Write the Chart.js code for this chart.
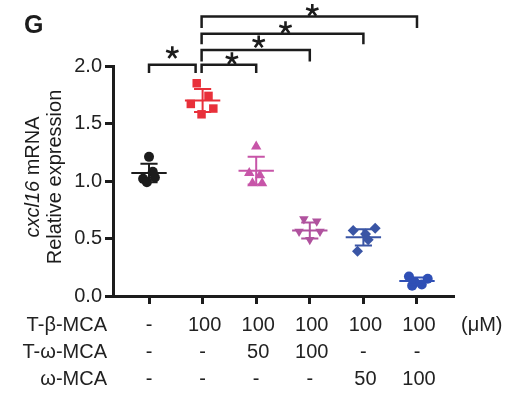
<!DOCTYPE html>
<html>
<head>
<meta charset="utf-8">
<script src="https://cdn.jsdelivr.net/npm/chart.js@4.4.0/dist/chart.umd.min.js"></script>
<style>
  html, body { margin: 0; padding: 0; background: #fff; }
  #wrap { width: 506px; height: 395px; position: relative; }
</style>
</head>
<body>
<div id="wrap"><canvas id="chart"></canvas></div>
<script>
// groups (x positions 0..5) and their points
const groupColors = ['#1c1c1c', '#e8303a', '#c755a8', '#b0529e', '#3a55a5', '#2f4fb5'];
const groupStyles = ['circle', 'rect', 'triangle', 'triangle', 'rectRot', 'circle'];
const groupRotation = [0, 0, 0, 180, 0, 0];
const groupRadius = [5, 6, 6, 5.5, 5.5, 5];

const g0x = [0.00, -0.11, 0.07, -0.04, 0.11];
const g0y = [1.21, 1.02, 1.08, 0.99, 1.03];
const g1x = [0.89, 1.11, 0.78, 1.20, 0.98];
const g1y = [1.85, 1.74, 1.67, 1.63, 1.58];
const g2x = [2.00, 1.87, 2.07, 1.93, 2.11];
const g2y = [1.30, 1.07, 1.05, 0.98, 0.98];
const g3x = [2.89, 3.13, 2.80, 3.19, 3.00];
const g3y = [0.67, 0.65, 0.56, 0.56, 0.49];
const g4x = [3.81, 4.04, 4.22, 4.09, 3.89];
const g4y = [0.57, 0.54, 0.59, 0.49, 0.39];
const g5x = [4.85, 5.20, 4.96, 5.09, 4.91];
const g5y = [0.17, 0.15, 0.12, 0.10, 0.09];

const means = [1.07, 1.70, 1.09, 0.57, 0.51, 0.13];
const sds   = [0.08, 0.10, 0.12, 0.07, 0.07, 0.03];

// significance brackets: [from, to] group index
const brFrom = [0, 1, 1, 1, 1];
const brTo   = [1, 2, 3, 4, 5];

// y ticks
const yTicks = [0, 0.5, 1.0, 1.5, 2.0];

// treatment table under the axis
const rowNames = ['T-\u03b2-MCA', 'T-\u03c9-MCA', '\u03c9-MCA'];
const tbMCA = ['-', '100', '100', '100', '100', '100'];
const twMCA = ['-', '-', '50', '100', '-', '-'];
const wMCA  = ['-', '-', '-', '-', '50', '100'];
const unitLabel = '(\u03bcM)';

const FONT = '"Liberation Sans", Arial, sans-serif';

const xs = [g0x, g1x, g2x, g3x, g4x, g5x];
const ys = [g0y, g1y, g2y, g3y, g4y, g5y];
const datasets = xs.map((arr, i) => ({
  data: arr.map((x, j) => ({ x: x, y: ys[i][j] })),
  pointStyle: groupStyles[i],
  rotation: groupRotation[i],
  pointRadius: groupRadius[i],
  backgroundColor: groupColors[i],
  borderColor: groupColors[i],
  borderWidth: 0,
  showLine: false
}));

// draws a five-armed asterisk centred at (x, y)
function star(ctx, x, y, r) {
  ctx.save();
  ctx.lineWidth = 2.6;
  ctx.lineCap = 'butt';
  ctx.beginPath();
  for (let k = 0; k < 5; k++) {
    const a = -Math.PI / 2 + k * 2 * Math.PI / 5;
    ctx.moveTo(x, y);
    ctx.lineTo(x + r * Math.cos(a), y + r * Math.sin(a));
  }
  ctx.stroke();
  ctx.restore();
}

const extras = {
  id: 'extras',
  afterDatasetsDraw(chart) {
    const ctx = chart.ctx;
    const xS = chart.scales.x, yS = chart.scales.y;
    ctx.save();
    // mean and SD bars
    means.forEach((m, i) => {
      const cx = xS.getPixelForValue(i);
      const w = xS.getPixelForValue(i + 0.33) - cx;
      const c = xS.getPixelForValue(i + 0.16) - cx;
      const yt = yS.getPixelForValue(m + sds[i]);
      const yb = yS.getPixelForValue(m - sds[i]);
      const ym = yS.getPixelForValue(m);
      ctx.strokeStyle = groupColors[i];
      ctx.lineWidth = 2;
      ctx.beginPath();
      ctx.moveTo(cx - w, ym); ctx.lineTo(cx + w, ym);
      ctx.moveTo(cx, yt); ctx.lineTo(cx, yb);
      ctx.moveTo(cx - c, yt); ctx.lineTo(cx + c, yt);
      ctx.moveTo(cx - c, yb); ctx.lineTo(cx + c, yb);
      ctx.stroke();
    });

    // significance brackets
    const levels = [2.01, 2.01, 2.14, 2.28, 2.43];
    const legs = [0.07, 0.07, 0.10, 0.09, 0.10];
    const starLift = [12, 6, 8, 6, 6];
    ctx.strokeStyle = '#1c1c1c';
    ctx.fillStyle = '#1c1c1c';
    ctx.lineWidth = 2.5;
    brFrom.forEach((f, k) => {
      const x1 = xS.getPixelForValue(f);
      const x2 = xS.getPixelForValue(brTo[k]) + (k === 0 ? -7 : 0);
      const xa = k === 0 ? x1 : x1 - 1;
      const yl = yS.getPixelForValue(levels[k]);
      const yd = yS.getPixelForValue(levels[k] - legs[k]);
      ctx.lineWidth = 2.5;
      ctx.beginPath();
      ctx.moveTo(xa, yd); ctx.lineTo(xa, yl); ctx.lineTo(x2, yl); ctx.lineTo(x2, yd);
      ctx.stroke();
      star(ctx, (xa + x2) / 2 + (k === 0 ? 0 : 3), yl - starLift[k], 6.5);
    });

    // panel letter
    ctx.font = 'bold 25px ' + FONT;
    ctx.textAlign = 'left';
    ctx.textBaseline = 'alphabetic';
    ctx.fillText('G', 24, 33);

    // y title (two lines, gene name italic)
    ctx.save();
    ctx.translate(42, 177);
    ctx.rotate(-Math.PI / 2);
    ctx.textBaseline = 'middle';
    ctx.font = 'italic 20px ' + FONT;
    const gene = 'cxcl16';
    const rest = ' mRNA';
    const gw = ctx.measureText(gene).width;
    ctx.font = '20px ' + FONT;
    const rw = ctx.measureText(rest).width;
    let sx = -(gw + rw) / 2;
    ctx.font = 'italic 20px ' + FONT;
    ctx.textAlign = 'left';
    ctx.fillText(gene, sx, -9);
    ctx.font = '20px ' + FONT;
    ctx.fillText(rest, sx + gw, -9);
    ctx.textAlign = 'center';
    ctx.fillText('Relative expression', 0, 13);
    ctx.restore();

    // treatment table
    const rows = [tbMCA, twMCA, wMCA];
    const rowY = [325, 352, 379];
    ctx.font = '20px ' + FONT;
    ctx.textBaseline = 'middle';
    ctx.fillStyle = '#222';
    rows.forEach((r, ri) => {
      ctx.textAlign = 'right';
      ctx.fillText(rowNames[ri], 107, rowY[ri]);
      ctx.textAlign = 'center';
      r.forEach((v, i) => {
        ctx.fillText(v, xS.getPixelForValue(i) + (v === '-' ? 0 : 2), rowY[ri]);
      });
    });
    ctx.textAlign = 'left';
    ctx.fillText(unitLabel, 461, rowY[0]);
    ctx.restore();
  }
};

new Chart(document.getElementById('chart'), {
  type: 'scatter',
  data: { datasets: datasets },
  options: {
    responsive: true,
    maintainAspectRatio: false,
    animation: false,
    layout: { padding: { top: 66, right: 53, left: 0, bottom: 0 } },
    plugins: { legend: { display: false }, tooltip: { enabled: false } },
    scales: {
      x: {
        type: 'linear',
        min: -0.672,
        max: 5.672,
        afterBuildTicks: (s) => { s.ticks = [0, 1, 2, 3, 4, 5].map(v => ({ value: v })); },
        afterFit: (s) => { s.height = 99; },
        ticks: { display: false },
        grid: { drawOnChartArea: false, tickLength: 8, lineWidth: 3, color: '#1c1c1c' },
        border: { display: true, width: 3, color: '#1c1c1c' }
      },
      y: {
        min: 0,
        max: 2.0,
        afterBuildTicks: (s) => { s.ticks = yTicks.map(v => ({ value: v })); },
        afterFit: (s) => { s.width = 113; },
        ticks: {
          padding: 3,
          color: '#222',
          font: { family: FONT, size: 20 },
          callback: (v) => Number(v).toFixed(1)
        },
        grid: { drawOnChartArea: false, tickLength: 8, lineWidth: 3, color: '#1c1c1c' },
        border: { display: true, width: 3, color: '#1c1c1c' }
      }
    }
  },
  plugins: [extras]
});
</script>
</body>
</html>
